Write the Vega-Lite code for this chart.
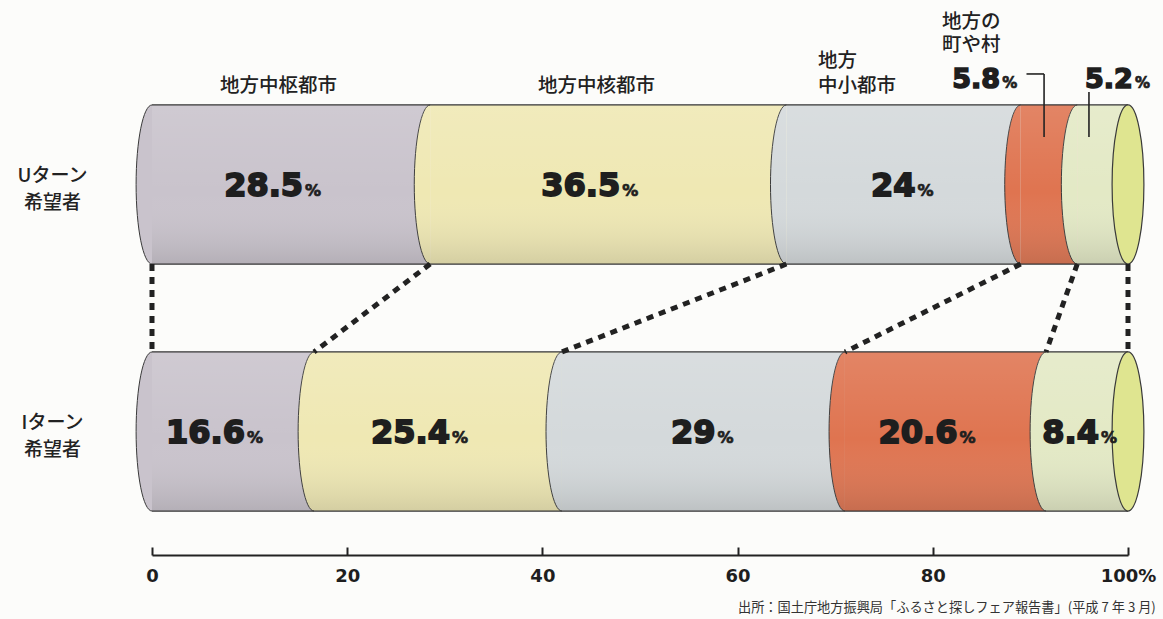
{
  "$schema": "https://vega.github.io/schema/vega-lite/v6.json",
  "width": 976,
  "height": 494,
  "autosize": "none",
  "padding": {"left": 152, "top": 61, "right": 35, "bottom": 64},
  "background": "#fcfcfa",
  "config": {"view": {"stroke": null}, "font": "Noto Sans CJK JP"},
  "title": {
    "text": "出所：国土庁地方振興局「ふるさと探しフェア報告書」(平成 7 年 3 月)",
    "orient": "bottom",
    "anchor": "end",
    "fontSize": 13.2,
    "fontWeight": "normal",
    "font": "Noto Sans CJK JP",
    "color": "#333333",
    "offset": 17,
    "dx": 0
  },
  "datasets": {
    "shares": [
      {"group": "Uターン希望者", "category": "地方中枢都市", "order": 1, "value": 28.5},
      {"group": "Uターン希望者", "category": "地方中核都市", "order": 2, "value": 36.5},
      {"group": "Uターン希望者", "category": "地方中小都市", "order": 3, "value": 24},
      {"group": "Uターン希望者", "category": "地方の町や村", "order": 4, "value": 5.8},
      {"group": "Uターン希望者", "category": "その他", "order": 5, "value": 5.2},
      {"group": "Iターン希望者", "category": "地方中枢都市", "order": 1, "value": 16.6},
      {"group": "Iターン希望者", "category": "地方中核都市", "order": 2, "value": 25.4},
      {"group": "Iターン希望者", "category": "地方中小都市", "order": 3, "value": 29},
      {"group": "Iターン希望者", "category": "地方の町や村", "order": 4, "value": 20.6},
      {"group": "Iターン希望者", "category": "その他", "order": 5, "value": 8.4}
    ],
    "links": [
      {"u": 0, "i": 0},
      {"u": 28.5, "i": 16.6},
      {"u": 65, "i": 42},
      {"u": 89, "i": 71},
      {"u": 94.8, "i": 91.6},
      {"u": 100, "i": 100}
    ]
  },
  "layer": [
    {
      "data": {"name": "shares"},
      "mark": {"type": "bar", "strokeWidth": 0},
      "encoding": {
        "y": {
          "field": "group", "type": "nominal",
          "scale": {"domain": ["Uターン希望者", "Iターン希望者"], "paddingInner": 0.356, "paddingOuter": 0.178},
          "axis": {
            "title": null, "domain": false, "ticks": false, "tickSize": 0,
            "labelPadding": 100, "labelAlign": "center", "labelBaseline": "middle",
            "labelFont": "Noto Sans CJK JP", "labelFontSize": 19, "labelFontWeight": 500,
            "labelColor": "#222222", "labelLineHeight": 27, "labelOffset": -9,
            "labelExpr": "datum.value == 'Uターン希望者' ? ['Uターン', '希望者'] : ['Iターン', '希望者']"
          }
        },
        "x": {
          "field": "value", "type": "quantitative", "stack": "zero",
          "scale": {"domain": [0, 100], "nice": false},
          "axis": {
            "values": [0, 20, 40, 60, 80, 100], "title": null, "grid": false,
            "domainColor": "#222222", "domainWidth": 2, "tickColor": "#222222", "tickWidth": 2, "tickSize": -8,
            "labelFont": "DejaVu Sans", "labelFontWeight": "bold", "labelFontSize": 18, "labelColor": "#1e1e1e",
            "labelPadding": 20, "labelFlush": false,
            "labelExpr": "datum.value == 100 ? '100%' : datum.label"
          }
        },
        "color": {
          "field": "category", "type": "nominal",
          "scale": {
            "domain": ["地方中枢都市", "地方中核都市", "地方中小都市", "地方の町や村", "その他"],
            "range": ["#c9c3cc", "#efe8b3", "#d4d9db", "#df7450", "#e3e9c5"]
          },
          "legend": null
        },
        "order": {"field": "order"}
      }
    },
    {
      "data": {"name": "shares"},
      "mark": {
        "type": "point",
        "shape": "M0,-1 C-0.11,-1 -0.2,-0.5523 -0.2,0 C-0.2,0.5523 -0.11,1 0,1",
        "size": 25300, "filled": true, "opacity": 1, "stroke": "#3a3a3a", "strokeWidth": 1
      },
      "encoding": {
        "y": {"field": "group", "type": "nominal"},
        "x": {"field": "value", "type": "quantitative", "stack": "zero", "bandPosition": 0},
        "color": {"field": "category", "type": "nominal", "legend": null},
        "order": {"field": "order"}
      }
    },
    {
      "data": {"name": "shares"},
      "transform": [{"filter": "datum.order == 1"}],
      "mark": {
        "type": "bar", "strokeWidth": 0,
        "fill": {
          "gradient": "linear", "x1": 0, "y1": 0, "x2": 0, "y2": 1,
          "stops": [
            {"offset": 0, "color": "rgba(255,255,255,0.12)"},
            {"offset": 0.55, "color": "rgba(255,255,255,0)"},
            {"offset": 1, "color": "rgba(70,70,70,0.16)"}
          ]
        }
      },
      "encoding": {
        "y": {"field": "group", "type": "nominal"},
        "x": {"datum": 0, "type": "quantitative"},
        "x2": {"datum": 100}
      }
    },
    {
      "data": {"name": "shares"},
      "transform": [{"filter": "datum.order == 1"}],
      "mark": {"type": "rule", "color": "#333333", "strokeWidth": 1.3},
      "encoding": {
        "y": {"field": "group", "type": "nominal", "bandPosition": 0},
        "x": {"datum": 0, "type": "quantitative"},
        "x2": {"datum": 100}
      }
    },
    {
      "data": {"name": "shares"},
      "transform": [{"filter": "datum.order == 1"}],
      "mark": {"type": "rule", "color": "#333333", "strokeWidth": 1.3},
      "encoding": {
        "y": {"field": "group", "type": "nominal", "bandPosition": 1},
        "x": {"datum": 0, "type": "quantitative"},
        "x2": {"datum": 100}
      }
    },
    {
      "data": {"name": "shares"},
      "transform": [{"filter": "datum.order == 1"}],
      "mark": {
        "type": "point",
        "shape": "M0,-1 C-0.11,-1 -0.2,-0.5523 -0.2,0 C-0.2,0.5523 -0.11,1 0,1 C0.11,1 0.2,0.5523 0.2,0 C0.2,-0.5523 0.11,-1 0,-1 Z",
        "size": 25300, "filled": true, "fill": "#dfe590", "opacity": 1, "stroke": "#3a3a3a", "strokeWidth": 1.2
      },
      "encoding": {
        "y": {"field": "group", "type": "nominal"},
        "x": {"datum": 100, "type": "quantitative"}
      }
    },
    {
      "data": {"name": "links"},
      "mark": {"type": "rule", "color": "#222222", "strokeWidth": 5, "strokeDash": [7, 6]},
      "encoding": {
        "x": {"field": "u", "type": "quantitative"},
        "x2": {"field": "i"},
        "y": {"datum": "Uターン希望者", "type": "nominal", "bandPosition": 1},
        "y2": {"datum": "Iターン希望者", "bandPosition": 0}
      }
    },
    {
      "data": {"name": "shares"},
      "mark": {
        "type": "text", "align": "right", "baseline": "alphabetic", "dx": 12, "dy": 11,
        "font": "DejaVu Sans", "fontWeight": "bold", "fontSize": 32,
        "fill": "#1e1e1e", "stroke": "#1e1e1e", "strokeWidth": 1.8
      },
      "encoding": {
        "y": {"field": "group", "type": "nominal"},
        "x": {"field": "value", "type": "quantitative", "stack": "zero", "bandPosition": 0.5},
        "detail": {"field": "category"},
        "order": {"field": "order"},
        "text": {"field": "value", "type": "quantitative", "format": ".1~f"},
        "opacity": {"condition": {"test": "datum.group === 'Uターン希望者' && datum.order > 3", "value": 0}, "value": 1}
      }
    },
    {
      "data": {"name": "shares"},
      "mark": {
        "type": "text", "align": "left", "baseline": "alphabetic", "dx": 14, "dy": 11,
        "font": "DejaVu Sans", "fontWeight": "bold", "fontSize": 16,
        "fill": "#1e1e1e", "stroke": "#1e1e1e", "strokeWidth": 0.7
      },
      "encoding": {
        "y": {"field": "group", "type": "nominal"},
        "x": {"field": "value", "type": "quantitative", "stack": "zero", "bandPosition": 0.5},
        "detail": {"field": "category"},
        "order": {"field": "order"},
        "text": {"value": "%"},
        "opacity": {"condition": {"test": "datum.group === 'Uターン希望者' && datum.order > 3", "value": 0}, "value": 1}
      }
    },
    {
      "data": {"values": [
        {"label": "地方中枢都市", "pos": 6.97},
        {"label": "地方中核都市", "pos": 39.55}
      ]},
      "mark": {
        "type": "text", "align": "left", "baseline": "alphabetic", "dy": -13,
        "font": "Noto Sans CJK JP", "fontSize": 19.5, "fontWeight": 500, "fill": "#222222"
      },
      "encoding": {
        "x": {"field": "pos", "type": "quantitative"},
        "y": {"datum": "Uターン希望者", "type": "nominal", "bandPosition": 0},
        "text": {"field": "label"}
      }
    },
    {
      "data": {"values": [{"label": "地方\n中小都市", "pos": 68.24}]},
      "mark": {
        "type": "text", "align": "left", "baseline": "alphabetic", "lineBreak": "\n", "lineHeight": 25, "dy": -38,
        "font": "Noto Sans CJK JP", "fontSize": 19.5, "fontWeight": 500, "fill": "#222222"
      },
      "encoding": {
        "x": {"field": "pos", "type": "quantitative"},
        "y": {"datum": "Uターン希望者", "type": "nominal", "bandPosition": 0},
        "text": {"field": "label"}
      }
    },
    {
      "data": {"values": [{"label": "地方の\n町や村", "pos": 80.94}]},
      "mark": {
        "type": "text", "align": "left", "baseline": "alphabetic", "lineBreak": "\n", "lineHeight": 23, "dy": -77,
        "font": "Noto Sans CJK JP", "fontSize": 19.5, "fontWeight": 500, "fill": "#222222"
      },
      "encoding": {
        "x": {"field": "pos", "type": "quantitative"},
        "y": {"datum": "Uターン希望者", "type": "nominal", "bandPosition": 0},
        "text": {"field": "label"}
      }
    },
    {
      "data": {"values": [{"label": "5.8", "pos": 86.9}, {"label": "5.2", "pos": 100.5}]},
      "mark": {
        "type": "text", "align": "right", "baseline": "alphabetic", "dy": -17,
        "font": "DejaVu Sans", "fontWeight": "bold", "fontSize": 27,
        "fill": "#1e1e1e", "stroke": "#1e1e1e", "strokeWidth": 1.6
      },
      "encoding": {
        "x": {"field": "pos", "type": "quantitative"},
        "y": {"datum": "Uターン希望者", "type": "nominal", "bandPosition": 0},
        "text": {"field": "label"}
      }
    },
    {
      "data": {"values": [{"label": "%", "pos": 86.9}, {"label": "%", "pos": 100.5}]},
      "mark": {
        "type": "text", "align": "left", "baseline": "alphabetic", "dx": 2, "dy": -17,
        "font": "DejaVu Sans", "fontWeight": "bold", "fontSize": 15,
        "fill": "#1e1e1e", "stroke": "#1e1e1e", "strokeWidth": 0.7
      },
      "encoding": {
        "x": {"field": "pos", "type": "quantitative"},
        "y": {"datum": "Uターン希望者", "type": "nominal", "bandPosition": 0},
        "text": {"field": "label"}
      }
    },
    {
      "data": {"values": [{"a": 89.6, "b": 91.4}]},
      "mark": {"type": "rule", "color": "#222222", "strokeWidth": 1.6, "yOffset": -31},
      "encoding": {
        "x": {"field": "a", "type": "quantitative"},
        "x2": {"field": "b"},
        "y": {"datum": "Uターン希望者", "type": "nominal", "bandPosition": 0}
      }
    },
    {
      "data": {"values": [{"a": 91.4, "top": -31}, {"a": 96.0, "top": -13}]},
      "mark": {"type": "rule", "color": "#222222", "strokeWidth": 1.6, "y2Offset": 32},
      "encoding": {
        "x": {"field": "a", "type": "quantitative"},
        "y": {"datum": "Uターン希望者", "type": "nominal", "bandPosition": 0},
        "y2": {"datum": "Uターン希望者", "bandPosition": 0},
        "yOffset": {"field": "top", "type": "quantitative", "scale": null}
      }
    }
  ]
}
